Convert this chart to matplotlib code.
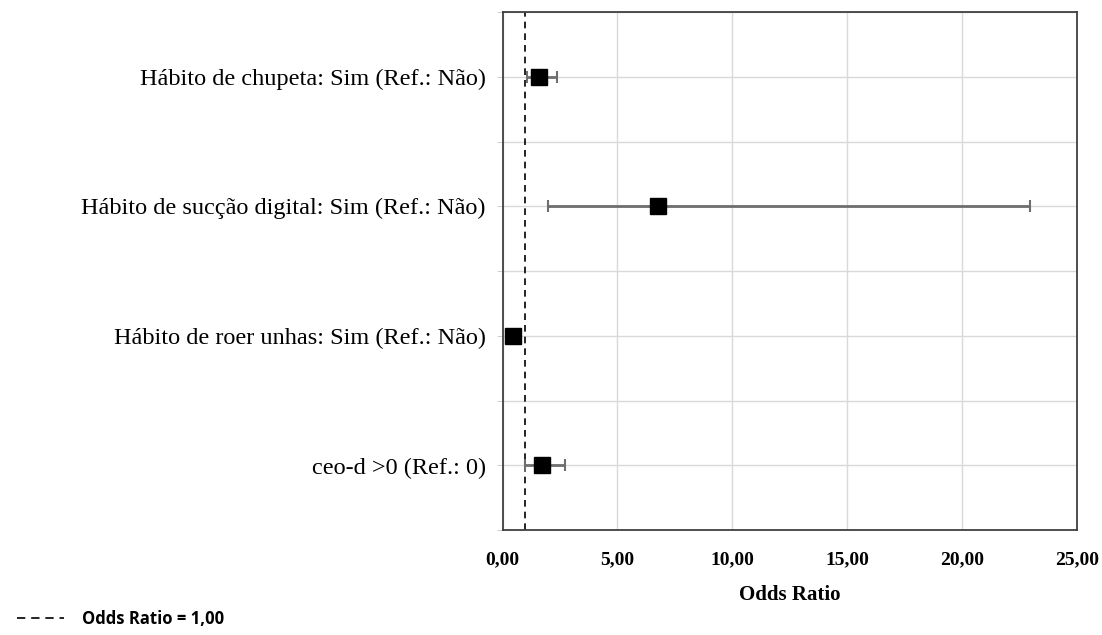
import numpy as np
import matplotlib.pyplot as plt
from matplotlib.lines import Line2D

# odds ratios and 95% CI (top to bottom)
labels = ["Hábito de chupeta: Sim (Ref.: Não)",
          "Hábito de sucção digital: Sim (Ref.: Não)",
          "Hábito de roer unhas: Sim (Ref.: Não)",
          "ceo-d >0 (Ref.: 0)"]
odds = [1.60, 6.76, 0.47, 1.74]
ci_low = [1.05, 2.00, 0.25, 1.00]
ci_high = [2.39, 22.96, 0.78, 2.73]
xticks = [0, 5, 10, 15, 20, 25]

odds = np.array(odds)
lo = odds - np.array(ci_low)
hi = np.array(ci_high) - odds
ypos = np.array([7, 5, 3, 1])

fig = plt.figure(figsize=(11.02, 6.35), dpi=100)
ax = fig.add_axes([0.456, 0.165, 0.521, 0.816])

ax.errorbar(odds, ypos, xerr=[lo, hi], fmt='none', ecolor='#6e6e6e',
            elinewidth=2, capsize=4, capthick=1.5, zorder=3)
ax.plot(odds, ypos, 's', color='black', markersize=12, zorder=4)
ax.axvline(1, color='black', linestyle=(0, (4, 3)), linewidth=1.2, zorder=2)

ax.set_xlim(0, 25)
ax.set_ylim(0, 8)
ax.set_xticks(xticks)
ax.set_xticklabels([("%.2f" % v).replace('.', ',') for v in xticks],
                   fontfamily='Liberation Serif', fontweight='bold', fontsize=14)
ax.set_yticks(range(9))
ylabs = [''] * 9
for y, l in zip(ypos, labels):
    ylabs[y] = l
ax.set_yticklabels(ylabs, fontfamily='Liberation Serif', fontsize=17.5)
ax.tick_params(axis='x', length=0, pad=15)
ax.tick_params(axis='y', length=4, color='#d0d0d0', pad=8)
ax.grid(True, color='#d9d9d9', linewidth=1)
ax.set_axisbelow(True)
for s in ax.spines.values():
    s.set_color('#404040')
    s.set_linewidth(1.3)

ax.set_xlabel("Odds Ratio", fontfamily='Liberation Serif', fontweight='bold',
              fontsize=15, labelpad=12)

handle = Line2D([], [], color='black', linestyle=(0, (5, 3.5)), linewidth=1.2)
fig.legend([handle], ["Odds Ratio = 1,00"], loc='lower left',
           bbox_to_anchor=(0.002, -0.012), frameon=False, handlelength=2.8,
           handletextpad=1.1,
           prop={'family': 'Open Sans', 'weight': 'bold', 'size': 12})

plt.savefig("out.png")
